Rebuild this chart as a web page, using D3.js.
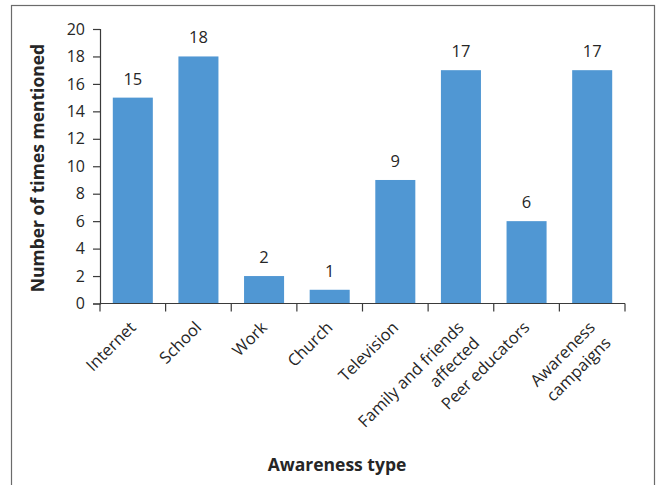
<!DOCTYPE html>
<html>
<head>
<meta charset="utf-8">
<script src="https://cdn.jsdelivr.net/npm/d3@7"></script>
<style>
  html, body { margin: 0; padding: 0; background: #fff; }
  svg { display: block; }
  text { font-family: "Open Sans", "Lato", sans-serif; fill: #262626; }
</style>
</head>
<body>
<svg id="chart" width="660" height="485"></svg>
<script>
// Sources of awareness and how often each was mentioned
const categories = [
  ["Internet"],
  ["School"],
  ["Work"],
  ["Church"],
  ["Television"],
  ["Family and friends", "affected"],
  ["Peer educators"],
  ["Awareness", "campaigns"]
];
const counts = [15, 18, 2, 1, 9, 17, 6, 17];
const yTicks = [0, 2, 4, 6, 8, 10, 12, 14, 16, 18, 20];
const xTitle = "Awareness type";
const yTitle = "Number of times mentioned";

const svg = d3.select("#chart");
const W = 660, H = 485;

// outer frame
svg.append("rect")
  .attr("x", 11.5).attr("y", 5.5)
  .attr("width", 643).attr("height", H + 10)
  .attr("fill", "none")
  .attr("stroke", "#6b6b6b")
  .attr("stroke-width", 1.2);

const plot = { left: 100, right: 625, top: 29, bottom: 303.5 };
const keys = categories.map((c, i) => i);

const x = d3.scaleBand()
  .domain(keys)
  .range([plot.left, plot.right])
  .paddingInner(0.39)
  .paddingOuter(0.195);

const y = d3.scaleLinear()
  .domain([0, 20])
  .range([plot.bottom, plot.top]);

const axisColor = "#3a3a3a";

// y axis
const yAxis = svg.append("g")
  .attr("transform", `translate(${plot.left},0)`)
  .call(d3.axisLeft(y).tickValues(yTicks).tickSize(7).tickPadding(8).tickFormat(d3.format("d")));
yAxis.select(".domain").attr("stroke", axisColor).attr("stroke-width", 1.2);
yAxis.selectAll(".tick line").attr("stroke", axisColor).attr("stroke-width", 1.2);
yAxis.selectAll(".tick text")
  .style("font-family", "'Open Sans', sans-serif")
  .style("font-size", "16px")
  .attr("fill", "#262626");

// bars
svg.append("g").selectAll("rect")
  .data(counts)
  .join("rect")
  .attr("x", (d, i) => x(i))
  .attr("y", d => y(d))
  .attr("width", x.bandwidth())
  .attr("height", d => y(0) - y(d))
  .attr("fill", "#5097d3");

// value labels
svg.append("g").selectAll("text")
  .data(counts)
  .join("text")
  .attr("x", (d, i) => x(i) + x.bandwidth() / 2)
  .attr("y", d => y(d) - 13)
  .attr("text-anchor", "middle")
  .style("font-size", "16.5px")
  .text(d => d);

// x axis line with ticks at category boundaries
const step = x.step();
const boundaries = d3.range(categories.length + 1).map(i => plot.left + i * step);
const xAxis = svg.append("g");
xAxis.append("line")
  .attr("x1", plot.left).attr("x2", plot.right)
  .attr("y1", y(0)).attr("y2", y(0))
  .attr("stroke", axisColor).attr("stroke-width", 1.2);
xAxis.selectAll("line.tick")
  .data(boundaries)
  .join("line")
  .attr("class", "tick")
  .attr("x1", d => d).attr("x2", d => d)
  .attr("y1", y(0)).attr("y2", y(0) + 8)
  .attr("stroke", axisColor).attr("stroke-width", 1.2);

// rotated category labels
const labels = xAxis.selectAll("text")
  .data(categories)
  .join("text")
  .attr("transform", (d, i) => `translate(${x(i) + x.bandwidth() / 2 + 4},${y(0) + 25}) rotate(-45)`)
  .attr("text-anchor", "end")
  .style("font-size", "16.5px");
labels.selectAll("tspan")
  .data(d => d)
  .join("tspan")
  .attr("x", 0)
  .attr("dy", (d, j) => j === 0 ? 0 : 22)
  .text(d => d);

// axis titles
svg.append("text")
  .attr("x", 337).attr("y", 471)
  .attr("text-anchor", "middle")
  .style("font-size", "17.5px")
  .style("font-weight", "700")
  .text(xTitle);

svg.append("text")
  .attr("transform", "translate(44,168) rotate(-90)")
  .attr("text-anchor", "middle")
  .style("font-size", "17.5px")
  .style("font-weight", "700")
  .text(yTitle);
</script>
</body>
</html>
